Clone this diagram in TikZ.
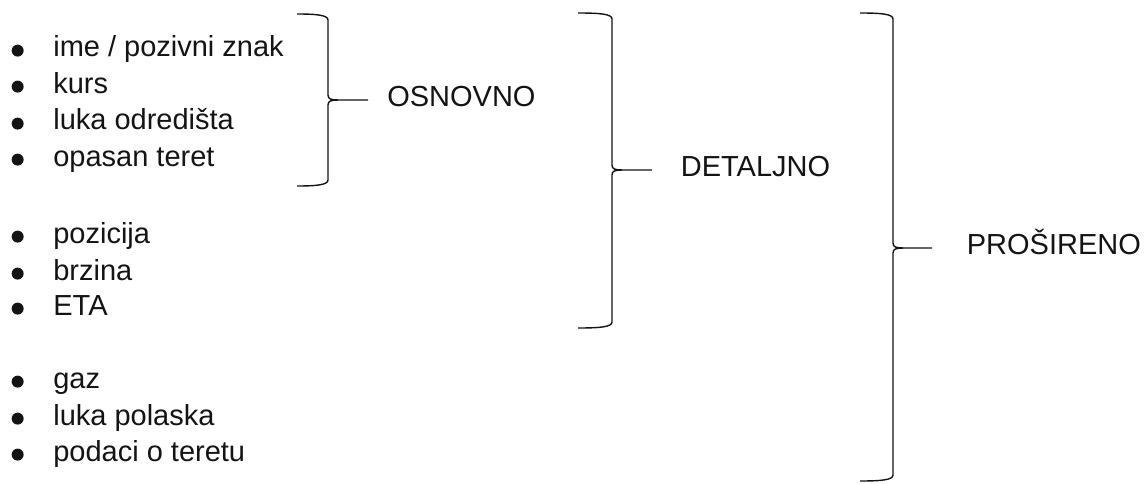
\documentclass[tikz,border=0pt]{standalone}
\usepackage{fontspec}
\setmainfont{Liberation Sans}
\usetikzlibrary{positioning}
\definecolor{myink}{RGB}{20,20,20}
\tikzset{
  bullet/.style={
    circle,
    fill=myink,
    inner sep=0pt,
    minimum size=0.24cm,
  },
  item/.style={
    anchor=base west,
    inner sep=0pt,
    text height=0.75em,
    text depth=0.25em,
    text=myink,
    font=\fontsize{16.5}{19}\selectfont,
    label={[bullet,label distance=0.58cm,yshift=0.04cm]left:{}},
  },
  level/.style={
    anchor=west,
    inner sep=0pt,
    text height=0.72em,
    text depth=0pt,
    text=myink,
    font=\fontsize{16.5}{19}\selectfont,
  },
  bracestyle/.style={
    draw=myink,
    line width=0.8pt,
  },
}
% #1 arm x, #2 spine x, #3 top y, #4 tip y, #5 bottom y, #6 tip x, #7 name
\newcommand{\curlybrace}[7]{%
  \draw[bracestyle]
    (#1,#3) .. controls (#2-12,#3) and (#2,#3+1) .. (#2,#3+6)
    -- (#2,#4-5) .. controls (#2,#4-1) and (#2+3,#4) .. (#2+10,#4)
    -- (#6,#4) coordinate (#7);
  \draw[bracestyle]
    (#2+10,#4) .. controls (#2+3,#4) and (#2,#4+1) .. (#2,#4+5)
    -- (#2,#5-6) .. controls (#2,#5-1) and (#2-12,#5) .. (#1,#5);
}

\begin{document}
\begin{tikzpicture}[x=0.02cm,y=-0.02cm]
\useasboundingbox (0,0) rectangle (1145,483);

% basic group
\node[item] (ime) at (53,57) {ime / pozivni znak};
\node[item] (kurs) at (53,93) {kurs};
\node[item] (odr) at (53,130) {luka odredišta};
\node[item] (teret) at (53,166) {opasan teret};

% detailed group
\node[item] (poz) at (53,243) {pozicija};
\node[item] (brz) at (53,280) {brzina};
\node[item] (eta) at (53,315) {ETA};

% extended group
\node[item] (gaz) at (53,388) {gaz};
\node[item] (pol) at (53,425) {luka polaska};
\node[item] (pod) at (53,461) {podaci o teretu};

% braces
\curlybrace{297}{328}{14}{100}{186}{368}{tip1}
\curlybrace{578}{612}{13}{170}{328}{652}{tip2}
\curlybrace{860}{893}{13}{248}{481}{932}{tip3}

\node[level,right=0.38cm of tip1] (osn) {OSNOVNO};
\node[level,right=0.57cm of tip2] (det) {DETALJNO};
\node[level,right=0.69cm of tip3] (pro) {PROŠIRENO};
\end{tikzpicture}
\end{document}
